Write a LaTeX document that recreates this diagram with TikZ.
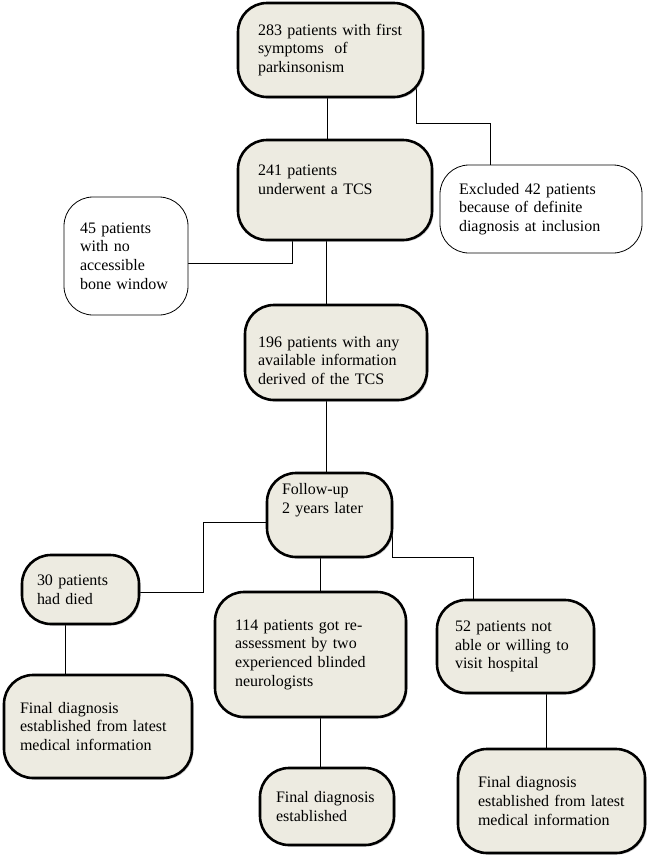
\documentclass[tikz,border=0pt]{standalone}
\usepackage{fontspec}
\setmainfont{Liberation Serif}
\usepackage{xcolor}
\definecolor{boxbeige}{HTML}{EDEBE1}
\usepackage{tikz}
\usetikzlibrary{backgrounds, shadows}

\begin{document}
\begin{tikzpicture}[x=1pt, y=-1pt,
    every node/.style={font=\fontsize{16}{18.7}\selectfont},
    stage/.style={
      rectangle, rounded corners=29pt,
      fill=boxbeige, draw=black,
      line width=2.6pt, align=left,
      drop shadow={fill=black!40, shadow xshift=1.5pt, shadow yshift=-1.5pt}},
    side/.style={
      rectangle, rounded corners=29pt,
      fill=white, draw=black,
      line width=0.8pt, align=left},
    link/.style={draw, line width=0.8pt}
  ]
  \useasboundingbox (0,0) rectangle (650,855);
  \node[stage, text width=145pt, inner xsep=20pt, minimum height=94pt] (start) at (330.5,50)
    {283 patients with first\\symptoms\ \ of\\parkinsonism};
  \node[stage, text width=154pt, inner xsep=20pt, minimum height=100pt] (tcs) at (335,190)
    {241 patients\\underwent a TCS\\[2pt]\mbox{}};
  \node[side, text width=164pt, inner xsep=19pt, minimum height=88pt] (excl) at (541,209)
    {Excluded 42 patients\\because of definite\\diagnosis at inclusion};
  \node[side, text width=92pt, inner xsep=16pt, minimum height=118pt] (nowin) at (126,256)
    {45 patients\\with no\\accessible\\bone window};
  \node[stage, text width=156pt, inner xsep=13pt, minimum height=95pt] (info) at (336,352.5)
    {\mbox{}\\[8pt]196 patients with any\\available information\\derived of the TCS};
  \node[stage, text width=95pt, inner xsep=15pt, minimum height=84pt] (follow) at (329.5,515)
    {Follow-up\\2 years later\\[14pt]\mbox{}};
  \node[stage, text width=87pt, inner xsep=15pt, minimum height=69pt] (died) at (80.5,589.5)
    {30 patients\\had died};
  \node[stage, text width=151pt, inner xsep=20pt, minimum height=125pt] (reass) at (310.5,654.5)
    {114 patients got re-\\assessment by two\\experienced blinded\\neurologists};
  \node[stage, text width=121pt, inner xsep=18pt, minimum height=93pt] (novisit) at (515.5,646.5)
    {52 patients not\\able or willing to\\visit hospital};
  \node[stage, text width=156pt, inner xsep=16pt, minimum height=103pt] (fin1) at (98,726.5)
    {Final diagnosis\\established from latest\\medical information};
  \node[stage, text width=102pt, inner xsep=16pt, minimum height=77pt] (fin2) at (327,806.5)
    {Final diagnosis\\established};
  \node[stage, text width=147pt, inner xsep=20pt, minimum height=104pt] (fin3) at (551.5,801)
    {Final diagnosis\\established from latest\\medical information};
  \begin{scope}[on background layer]
    \draw[link] (start.center -| 327,0) -- (tcs.center -| 327,0);
    \draw[link] (start.center -| 416,0) |- (490,123) -- (excl.center -| 490,0);
    \draw[link] (tcs.center -| 292,0) |- (nowin.center |- 0,263);
    \draw[link] (tcs.center -| 326,0) -- (info.center -| 326,0);
    \draw[link] (info.center -| 326,0) -- (follow.center -| 326,0);
    \draw[link] (follow.center |- 0,522) -| (203,592) -- (died.center |- 0,592);
    \draw[link] (follow.center -| 320,0) -- (reass.center -| 320,0);
    \draw[link] (follow.center -| 392,0) |- (473,557) -- (novisit.center -| 473,0);
    \draw[link] (died.center -| 65,0) -- (fin1.center -| 65,0);
    \draw[link] (reass.center -| 320,0) -- (fin2.center -| 320,0);
    \draw[link] (novisit.center -| 546,0) -- (fin3.center -| 546,0);
  \end{scope}
\end{tikzpicture}
\end{document}
